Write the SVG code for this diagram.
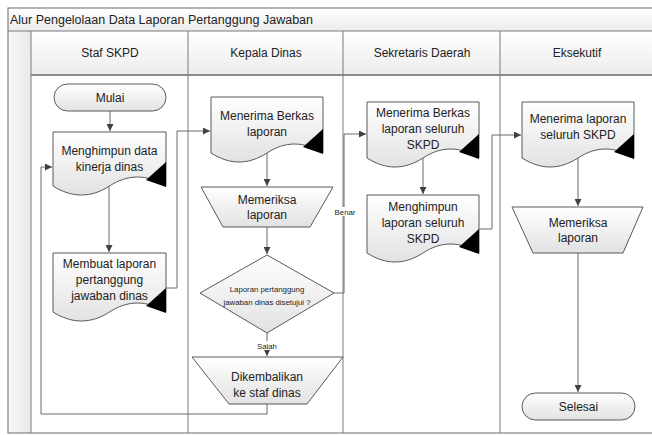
<svg xmlns="http://www.w3.org/2000/svg" width="652" height="435" viewBox="0 0 652 435">
<defs>
<linearGradient id="gShape" x1="0" y1="0" x2="0" y2="1"><stop offset="0" stop-color="#ffffff"/><stop offset="1" stop-color="#e2e2e2"/></linearGradient>
<linearGradient id="gHead" x1="0" y1="0" x2="0" y2="1"><stop offset="0" stop-color="#ffffff"/><stop offset="1" stop-color="#ececec"/></linearGradient>
<linearGradient id="gStrip" x1="0" y1="0" x2="1" y2="0"><stop offset="0" stop-color="#f6f6f6"/><stop offset="1" stop-color="#e9e9e9"/></linearGradient>
<marker id="arr" viewBox="0 0 10 10" refX="10" refY="5" markerWidth="7" markerHeight="7" markerUnits="userSpaceOnUse" orient="auto"><path d="M0,0 L10,5 L0,10 Z" fill="#404040"/></marker>
<style>
.frame{fill:none;stroke:#6a6a6a;stroke-width:1}
.lane{fill:none;stroke:#7a7a7a;stroke-width:1}
.shape{fill:url(#gShape);stroke:#595959;stroke-width:1}
.tri{fill:#000}
.conn{fill:none;stroke:#6b6b6b;stroke-width:1;marker-end:url(#arr)}
.line{fill:none;stroke:#6b6b6b;stroke-width:1}
text{font-family:"Liberation Sans",Arial,sans-serif;fill:#222;text-anchor:middle}
.t{font-size:12px}
.h{font-size:12px}
.title{font-size:12.5px;text-anchor:start}
.s{font-size:7.8px}
</style>
</defs>
<rect x="0" y="0" width="652" height="435" fill="#ffffff"/>
<g id="pool">
<rect x="8" y="8" width="660" height="23" fill="url(#gHead)"/>
<rect x="8" y="31" width="23" height="402" fill="url(#gStrip)"/>
<rect x="31" y="31" width="630" height="44" fill="url(#gHead)"/>
<rect x="8" y="8" width="660" height="425" class="frame"/>
<line x1="8" y1="31" x2="652" y2="31" class="lane"/>
<line x1="31" y1="31" x2="31" y2="433" class="lane"/>
<line x1="31" y1="75" x2="652" y2="75" stroke="#8a8a8a" stroke-width="2"/>
<line x1="188" y1="31" x2="188" y2="433" class="lane"/>
<line x1="343" y1="31" x2="343" y2="433" class="lane"/>
<line x1="500" y1="31" x2="500" y2="433" class="lane"/>
<text x="10" y="24" class="title">Alur Pengelolaan Data Laporan Pertanggung Jawaban</text>
<text x="110" y="57" class="h">Staf SKPD</text>
<text x="266" y="57" class="h">Kepala Dinas</text>
<text x="422" y="57" class="h">Sekretaris Daerah</text>
<text x="577" y="57" class="h">Eksekutif</text>
</g>
<g id="connectors">
<path d="M110,111 V131" class="conn"/>
<path d="M109,186 V252" class="conn"/>
<path d="M166,288 H177 V131 H210" class="conn"/>
<path d="M267,153 V186" class="conn"/>
<path d="M267,227 V254" class="conn"/>
<path d="M267,333 V356" class="conn"/>
<path d="M334,293 H344 V134 H366" class="conn"/>
<path d="M267,404 V414 H41 V167 H52" class="conn"/>
<path d="M423,158 V194" class="conn"/>
<path d="M479,229 H492 V135 H521" class="conn"/>
<path d="M578,158 V206" class="conn"/>
<path d="M578,253 V392" class="conn"/>
<rect x="257" y="341" width="20" height="9" fill="#ffffff"/>
<text x="267" y="349" class="s">Salah</text>
<rect x="334" y="207" width="22" height="9" fill="#ffffff"/>
<text x="345" y="215" class="s">Benar</text>
</g>
<g id="mulai">
<rect x="54" y="84" width="112" height="27" rx="13.5" class="shape"/>
<text x="110" y="101.5" class="t">Mulai</text>
</g>
<g id="doc1">
<path d="M53,132 H166 V186 C147,174 128,174 109.5,186 C91,198 72,198 53,186 Z" class="shape"/>
<path d="M166,162 V187 L146,180 Z" class="tri"/>
<text x="109.5" y="155" class="t">Menghimpun data</text>
<text x="109.5" y="171" class="t">kinerja dinas</text>
</g>
<g id="doc2">
<path d="M53,253 H166 V312 C147,300 128,300 109.5,312 C91,324 72,324 53,312 Z" class="shape"/>
<path d="M166,288 V313 L146,306 Z" class="tri"/>
<text x="109.5" y="268" class="t">Membuat laporan</text>
<text x="109.5" y="284" class="t">pertanggung</text>
<text x="109.5" y="300" class="t">jawaban dinas</text>
</g>
<g id="doc3">
<path d="M211,97 H323 V153 C304,141 285,141 267,153 C248,165 230,165 211,153 Z" class="shape"/>
<path d="M323,129 V154 L303,147 Z" class="tri"/>
<text x="267" y="120" class="t">Menerima Berkas</text>
<text x="267" y="136" class="t">laporan</text>
</g>
<g id="periksa1">
<path d="M201,187 H333 L310,227 H223 Z" class="shape"/>
<text x="267" y="204" class="t">Memeriksa</text>
<text x="267" y="219" class="t">laporan</text>
</g>
<g id="keputusan">
<path d="M267,255 L334,293 L267,333 L200,293 Z" class="shape"/>
<text x="267" y="292" class="s">Laporan pertanggung</text>
<text x="267" y="305" class="s">jawaban dinas disetujui ?</text>
</g>
<g id="kembali">
<path d="M192,357 H343 L307,404 H229 Z" class="shape"/>
<text x="267" y="381" class="t">Dikembalikan</text>
<text x="267" y="397" class="t">ke staf dinas</text>
</g>
<g id="doc4">
<path d="M367,102 H479 V158 C460,146 441,146 423,158 C404,170 386,170 367,158 Z" class="shape"/>
<path d="M479,134 V159 L459,152 Z" class="tri"/>
<text x="423" y="117" class="t">Menerima Berkas</text>
<text x="423" y="133" class="t">laporan seluruh</text>
<text x="423" y="149" class="t">SKPD</text>
</g>
<g id="doc5">
<path d="M367,195 H479 V253 C460,241 441,241 423,253 C404,265 386,265 367,253 Z" class="shape"/>
<path d="M479,229 V254 L459,247 Z" class="tri"/>
<text x="423" y="211" class="t">Menghimpun</text>
<text x="423" y="227" class="t">laporan seluruh</text>
<text x="423" y="243" class="t">SKPD</text>
</g>
<g id="doc6">
<path d="M522,102 H634 V158 C615,146 596,146 578,158 C559,170 541,170 522,158 Z" class="shape"/>
<path d="M634,134 V159 L614,152 Z" class="tri"/>
<text x="578" y="123" class="t">Menerima laporan</text>
<text x="578" y="139" class="t">seluruh SKPD</text>
</g>
<g id="periksa2">
<path d="M512,207 H643 L623,253 H533 Z" class="shape"/>
<text x="578" y="227" class="t">Memeriksa</text>
<text x="578" y="242" class="t">laporan</text>
</g>
<g id="selesai">
<rect x="522" y="393" width="113" height="27" rx="13.5" class="shape"/>
<text x="578.5" y="410.5" class="t">Selesai</text>
</g>
</svg>
